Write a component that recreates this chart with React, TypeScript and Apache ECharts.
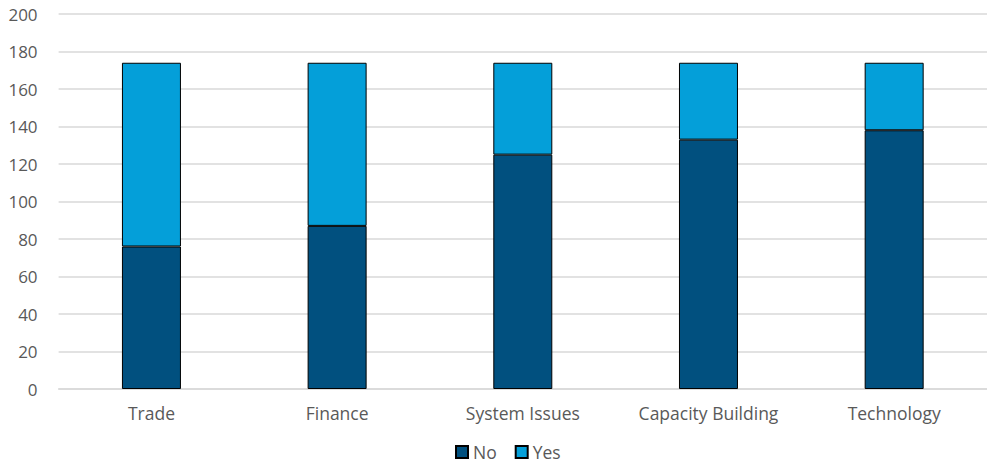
import React, { useEffect, useRef } from "react";
import * as echarts from "echarts";

const categories = ["Trade", "Finance", "System Issues", "Capacity Building", "Technology"];
const noValues = [76, 87, 125, 133, 138];
const yesValues = [98, 87, 49, 41, 36];

export default function App() {
  const ref = useRef<HTMLDivElement>(null);
  useEffect(() => {
    if (!ref.current) return;
    const chart = echarts.init(ref.current, undefined, { renderer: "svg" });
    const font = "'Open Sans', sans-serif";
    chart.setOption({
      animation: false,
      grid: { left: 58.6, right: 0, top: 14, bottom: 77 },
      legend: {
        bottom: 0,
        left: 450,
        icon: "rect",
        itemWidth: 12,
        itemHeight: 12,
        itemGap: 18,
        textStyle: { color: "#595959", fontSize: 17.5, fontFamily: font },
        data: ["No", "Yes"],
      },
      xAxis: {
        type: "category",
        data: categories,
        axisLine: { lineStyle: { color: "#d9d9d9", width: 1.5 } },
        axisTick: { show: false },
        axisLabel: { color: "#595959", fontSize: 17.5, fontFamily: font, margin: 15 },
      },
      yAxis: {
        type: "value",
        min: 0,
        max: 200,
        interval: 20,
        axisLine: { show: false },
        axisTick: { show: false },
        splitLine: { lineStyle: { color: "#d9d9d9", width: 1.5 } },
        axisLabel: { color: "#595959", fontSize: 17, fontFamily: font, margin: 21 },
      },
      series: [
        {
          name: "No",
          type: "bar",
          stack: "total",
          barWidth: 59,
          data: noValues,
          itemStyle: { color: "#01507F", borderColor: "#000000", borderWidth: 1 },
        },
        {
          name: "Yes",
          type: "bar",
          stack: "total",
          barWidth: 59,
          data: yesValues,
          itemStyle: { color: "#049FD9", borderColor: "#000000", borderWidth: 1 },
        },
      ],
    });
    return () => chart.dispose();
  }, []);
  return (
    <div
      ref={ref}
      style={{ position: "fixed", left: 0, top: 0, width: 987, height: 466, background: "#fff" }}
    />
  );
}
